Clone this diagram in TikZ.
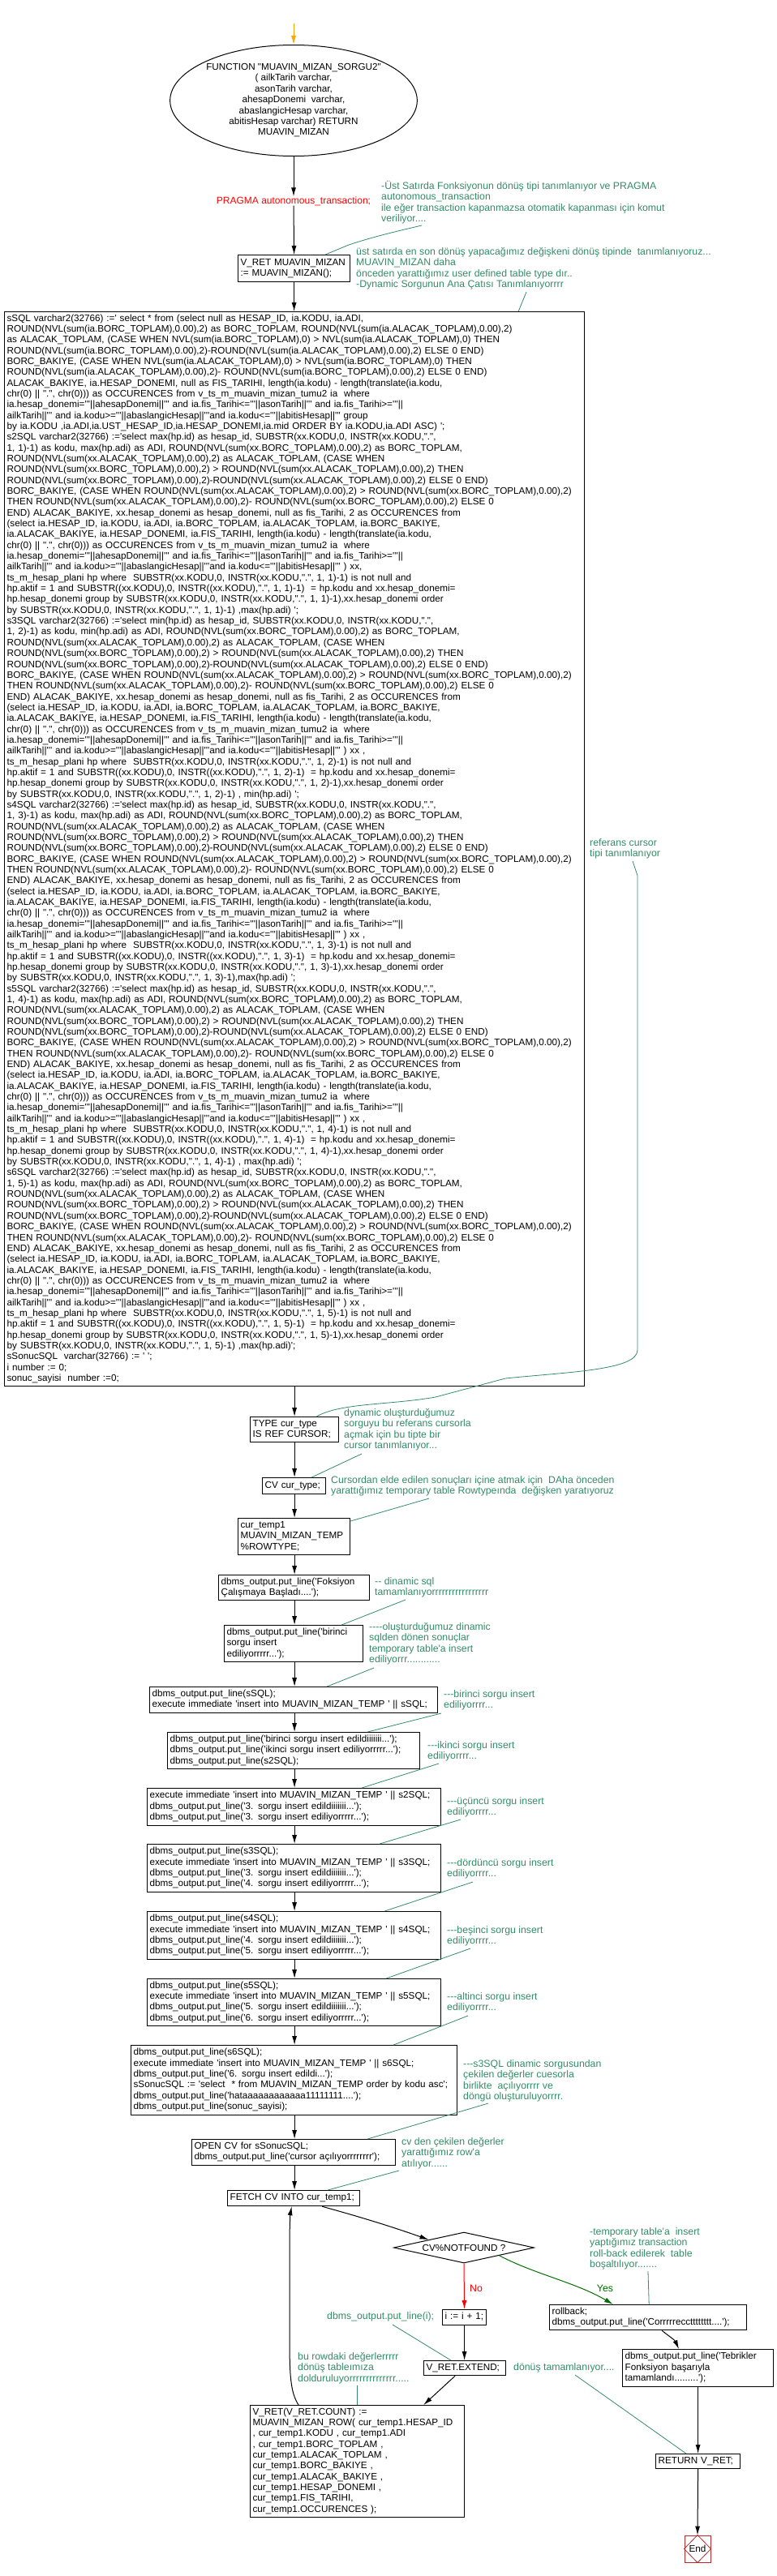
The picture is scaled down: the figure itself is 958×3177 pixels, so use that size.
\documentclass[tikz,border=0pt]{standalone}
\usepackage{fontspec}
\newfontfamily\af{Liberation Sans}
\usetikzlibrary{arrows.meta,shapes.geometric}
\definecolor{cmt}{RGB}{51,140,105}
\definecolor{yesgreen}{RGB}{0,110,0}
\definecolor{endred}{RGB}{190,40,40}
\definecolor{startorange}{RGB}{255,165,0}
\newcommand{\mylines}[1]{\begin{tabular}{@{}l@{}}#1\end{tabular}}
\newcommand{\mycentre}[1]{\begin{tabular}{@{}c@{}}#1\end{tabular}}
\newcommand{\sqhead}[3]{%
s#1SQL varchar2(32766) :='select #2(hp.id) as hesap\_id, SUBSTR(xx.KODU,0, INSTR(xx.KODU,".",\\
1, #3)-1) as kodu, #2(hp.adi) as ADI, ROUND(NVL(sum(xx.BORC\_TOPLAM),0.00),2) as BORC\_TOPLAM,\\
ROUND(NVL(sum(xx.ALACAK\_TOPLAM),0.00),2) as ALACAK\_TOPLAM, (CASE WHEN\\}
\newcommand{\sqbody}{%
ROUND(NVL(sum(xx.BORC\_TOPLAM),0.00),2) > ROUND(NVL(sum(xx.ALACAK\_TOPLAM),0.00),2) THEN\\
ROUND(NVL(sum(xx.BORC\_TOPLAM),0.00),2)-ROUND(NVL(sum(xx.ALACAK\_TOPLAM),0.00),2) ELSE 0 END)\\
BORC\_BAKIYE, (CASE WHEN ROUND(NVL(sum(xx.ALACAK\_TOPLAM),0.00),2) > ROUND(NVL(sum(xx.BORC\_TOPLAM),0.00),2)\\
THEN ROUND(NVL(sum(xx.ALACAK\_TOPLAM),0.00),2)- ROUND(NVL(sum(xx.BORC\_TOPLAM),0.00),2) ELSE 0\\
END) ALACAK\_BAKIYE, xx.hesap\_donemi as hesap\_donemi, null as fis\_Tarihi, 2 as OCCURENCES from\\
(select ia.HESAP\_ID, ia.KODU, ia.ADI, ia.BORC\_TOPLAM, ia.ALACAK\_TOPLAM, ia.BORC\_BAKIYE,\\
ia.ALACAK\_BAKIYE, ia.HESAP\_DONEMI, ia.FIS\_TARIHI, length(ia.kodu) - length(translate(ia.kodu,\\
chr(0) || ".", chr(0))) as OCCURENCES from v\_ts\_m\_muavin\_mizan\_tumu2 ia\ \ where\\
ia.hesap\_donemi='''||ahesapDonemi||''' and ia.fis\_Tarihi<='''||asonTarih||''' and ia.fis\_Tarihi>='''||\\}
\newcommand{\sqtail}[3]{%
ailkTarih||''' and ia.kodu>='''||abaslangicHesap||'''and ia.kodu<='''||abitisHesap||''' ) #1\\
ts\_m\_hesap\_plani hp where\ \ SUBSTR(xx.KODU,0, INSTR(xx.KODU,".", 1, #2)-1) is not null and\\
hp.aktif = 1 and SUBSTR((xx.KODU),0, INSTR((xx.KODU),".", 1, #2)-1)\ \ = hp.kodu and xx.hesap\_donemi=\\
hp.hesap\_donemi group by SUBSTR(xx.KODU,0, INSTR(xx.KODU,".", 1, #2)-1),xx.hesap\_donemi order\\
by SUBSTR(xx.KODU,0, INSTR(xx.KODU,".", 1, #2)-1)#3\\}
\begin{document}
\begin{tikzpicture}[x=1pt,y=-1pt,
  every node/.style={font=\af\fontsize{11.7}{13.34}\selectfont, inner sep=0pt},
  box/.style={draw, line width=1.2pt, anchor=north west, inner xsep=3pt, inner ysep=0pt, align=left},
  arr/.style={-{Latex[length=11pt,width=6pt]}, line width=1pt},
  cline/.style={cmt, line width=0.8pt},
  cfont/.style={font=\af\fontsize{12.3}{13.3}\selectfont},
  ctext/.style={cfont, text=cmt, anchor=north west, align=left}]
\fill[white] (0,0) rectangle (958,3177);
\useasboundingbox (0,0) rectangle (958,3177);

% ---------- top ----------
\coordinate (start) at (362,29);
\node[draw, ellipse, line width=1pt, minimum width=264pt, minimum height=137pt, align=center] (ell) at (362,124)
 {\mycentre{FUNCTION "MUAVIN\_MIZAN\_SORGU2"\\( ailkTarih varchar,\\asonTarih varchar,\\ahesapDonemi\ \ varchar,\\abaslangicHesap varchar,\\abitisHesap varchar) RETURN\\MUAVIN\_MIZAN}};
\node[text=red, font=\af\fontsize{12}{13.3}\selectfont] (pragma) at (362,248) {PRAGMA autonomous\_transaction;};
\node[box, text width=132pt, minimum height=33pt] (vret) at (293,314) {\mylines{V\_RET MUAVIN\_MIZAN\\:= MUAVIN\_MIZAN();}};

\node[ctext] (c1) at (470,223) {\mylines{-Üst Satırda Fonksiyonun dönüş tipi tanımlanıyor ve PRAGMA\\autonomous\_transaction\\ile eğer transaction kapanmazsa otomatik kapanması için komut\\veriliyor....}};
\node[ctext] (c2) at (439,305) {\mylines{üst satırda en son dönüş yapacağımız değişkeni dönüş tipinde\ \ tanımlanıyoruz...\\MUAVIN\_MIZAN daha\\önceden yarattığımız user defined table type dır..\\-Dynamic Sorgunun Ana Çatısı Tanımlanıyorrrr}};

% ---------- big SQL box ----------
\node[box, text width=709pt, minimum height=1325pt] (sql) at (5,384) {\mylines{%
sSQL varchar2(32766) :=' select * from (select null as HESAP\_ID, ia.KODU, ia.ADI,\\
ROUND(NVL(sum(ia.BORC\_TOPLAM),0.00),2) as BORC\_TOPLAM, ROUND(NVL(sum(ia.ALACAK\_TOPLAM),0.00),2)\\
as ALACAK\_TOPLAM, (CASE WHEN NVL(sum(ia.BORC\_TOPLAM),0) > NVL(sum(ia.ALACAK\_TOPLAM),0) THEN\\
ROUND(NVL(sum(ia.BORC\_TOPLAM),0.00),2)-ROUND(NVL(sum(ia.ALACAK\_TOPLAM),0.00),2) ELSE 0 END)\\
BORC\_BAKIYE, (CASE WHEN NVL(sum(ia.ALACAK\_TOPLAM),0) > NVL(sum(ia.BORC\_TOPLAM),0) THEN\\
ROUND(NVL(sum(ia.ALACAK\_TOPLAM),0.00),2)- ROUND(NVL(sum(ia.BORC\_TOPLAM),0.00),2) ELSE 0 END)\\
ALACAK\_BAKIYE, ia.HESAP\_DONEMI, null as FIS\_TARIHI, length(ia.kodu) - length(translate(ia.kodu,\\
chr(0) || ".", chr(0))) as OCCURENCES from v\_ts\_m\_muavin\_mizan\_tumu2 ia\ \ where\\
ia.hesap\_donemi='''||ahesapDonemi||''' and ia.fis\_Tarihi<='''||asonTarih||''' and ia.fis\_Tarihi>='''||\\
ailkTarih||''' and ia.kodu>='''||abaslangicHesap||'''and ia.kodu<='''||abitisHesap||''' group\\
by ia.KODU ,ia.ADI,ia.UST\_HESAP\_ID,ia.HESAP\_DONEMI,ia.mid ORDER BY ia.KODU,ia.ADI ASC) ';\\
\sqhead{2}{max}{1}\sqbody\sqtail{xx,}{1}{ ,max(hp.adi) ';}%
\sqhead{3}{min}{2}\sqbody\sqtail{xx ,}{2}{ , min(hp.adi) ';}%
\sqhead{4}{max}{3}\sqbody\sqtail{xx ,}{3}{,max(hp.adi) ';}%
\sqhead{5}{max}{4}\sqbody\sqtail{xx ,}{4}{ , max(hp.adi) ';}%
\sqhead{6}{max}{5}\sqbody\sqtail{xx ,}{5}{ ,max(hp.adi)';}%
sSonucSQL\ \ varchar(32766) := ' ';\\
i number := 0;\\
sonuc\_sayisi\ \ number :=0;}};

\node[ctext] (cref) at (727,1034) {\mylines{referans cursor\\tipi tanımlanıyor}};

% ---------- middle chain ----------
\node[box, text width=103pt, minimum height=31pt] (type) at (308,1747) {\mylines{TYPE cur\_type\\IS REF CURSOR;}};
\node[ctext] (ctype) at (424,1737) {\mylines{dynamic oluşturduğumuz\\sorguyu bu referans cursorla\\açmak için bu tipte bir\\cursor tanımlanıyor...}};
\node[box, text width=72pt, minimum height=20pt] (cv) at (323,1822) {\mylines{CV cur\_type;}};
\node[ctext] (ccv) at (408,1820) {\mylines{Cursordan elde edilen sonuçları içine atmak için\ \ DAha önceden\\yarattığımız temporary table Rowtypeında\ \ değişken yaratıyoruz}};
\node[box, text width=132pt, minimum height=45pt] (ct) at (293,1872) {\mylines{cur\_temp1\\MUAVIN\_MIZAN\_TEMP\\\%ROWTYPE;}};
\node[box, text width=180pt, minimum height=31pt] (fok) at (269,1942) {\mylines{dbms\_output.put\_line('Foksiyon\\Çalışmaya Başladı....');}};
\node[ctext] (cfok) at (462,1945) {\mylines{-- dinamic sql\\tamamlanıyorrrrrrrrrrrrrrrrr}};
\node[box, text width=165pt, minimum height=45pt] (bir) at (276,2004) {\mylines{dbms\_output.put\_line('birinci\\sorgu insert\\ediliyorrrrr...');}};
\node[ctext] (cbir) at (455,2001) {\mylines{----oluşturduğumuz dinamic\\sqlden dönen sonuçlar\\temporary table'a insert\\ediliyorrr............}};
\node[box, text width=349pt, minimum height=32pt] (ssql) at (184,2080) {\mylines{dbms\_output.put\_line(sSQL);\\execute immediate 'insert into MUAVIN\_MIZAN\_TEMP ' || sSQL;}};
\node[ctext] (cssql) at (547,2084) {\mylines{---birinci sorgu insert\\ediliyorrrr...}};
\node[box, text width=305pt, minimum height=45pt] (s2) at (206,2136) {\mylines{dbms\_output.put\_line('birinci sorgu insert edildiiiiiii...');\\dbms\_output.put\_line('ikinci sorgu insert ediliyorrrrr...');\\dbms\_output.put\_line(s2SQL);}};
\node[ctext] (cs2) at (527,2147) {\mylines{---ikinci sorgu insert\\ediliyorrrr...}};
\node[box, text width=356pt, minimum height=46pt] (sa) at (181,2205) {\mylines{execute immediate 'insert into MUAVIN\_MIZAN\_TEMP ' || s2SQL;\\dbms\_output.put\_line('3. sorgu insert edildiiiiiii...');\\dbms\_output.put\_line('3. sorgu insert ediliyorrrrr...');}};
\node[ctext] (csa) at (551,2216) {\mylines{---üçüncü sorgu insert\\ediliyorrrr...}};
\node[box, text width=356pt, minimum height=59pt] (sb) at (181,2274) {\mylines{dbms\_output.put\_line(s3SQL);\\execute immediate 'insert into MUAVIN\_MIZAN\_TEMP ' || s3SQL;\\dbms\_output.put\_line('3. sorgu insert edildiiiiiii...');\\dbms\_output.put\_line('4. sorgu insert ediliyorrrrr...');}};
\node[ctext] (csb) at (551,2292) {\mylines{---dördüncü sorgu insert\\ediliyorrrr...}};
\node[box, text width=356pt, minimum height=59pt] (sc) at (181,2357) {\mylines{dbms\_output.put\_line(s4SQL);\\execute immediate 'insert into MUAVIN\_MIZAN\_TEMP ' || s4SQL;\\dbms\_output.put\_line('4. sorgu insert edildiiiiiii...');\\dbms\_output.put\_line('5. sorgu insert ediliyorrrrr...');}};
\node[ctext] (csc) at (551,2375) {\mylines{---beşinci sorgu insert\\ediliyorrrr...}};
\node[box, text width=356pt, minimum height=58pt] (sd) at (181,2440) {\mylines{dbms\_output.put\_line(s5SQL);\\execute immediate 'insert into MUAVIN\_MIZAN\_TEMP ' || s5SQL;\\dbms\_output.put\_line('5. sorgu insert edildiiiiiii...');\\dbms\_output.put\_line('6. sorgu insert ediliyorrrrr...');}};
\node[ctext] (csd) at (551,2457) {\mylines{---altinci sorgu insert\\ediliyorrrr...}};
\node[box, text width=396pt, minimum height=86pt] (s6) at (161,2522) {\mylines{dbms\_output.put\_line(s6SQL);\\execute immediate 'insert into MUAVIN\_MIZAN\_TEMP ' || s6SQL;\\dbms\_output.put\_line('6. sorgu insert edildi...');\\sSonucSQL := 'select\ \ * from MUAVIN\_MIZAN\_TEMP order by kodu asc';\\dbms\_output.put\_line('hataaaaaaaaaaaa11111111....');\\dbms\_output.put\_line(sonuc\_sayisi);}};
\node[ctext] (cs6) at (571,2540) {\mylines{---s3SQL dinamic sorgusundan\\çekilen değerler cuesorla\\birlikte\ \ açılıyorrrr ve\\döngü oluşturuluyorrrr.}};
\node[box, text width=245pt, minimum height=32pt] (open) at (236,2638) {\mylines{OPEN CV for sSonucSQL;\\dbms\_output.put\_line('cursor açılıyorrrrrrrr');}};
\node[ctext] (copen) at (495,2636) {\mylines{cv den çekilen değerler\\yarattığımız row'a\\atılıyor......}};
\node[box, text width=157pt, minimum height=19pt] (fetch) at (280,2701) {\mylines{FETCH CV INTO cur\_temp1;}};

% ---------- loop ----------
\node[draw, diamond, aspect=4.55, line width=1pt, minimum width=173pt, minimum height=38pt] (dia) at (572,2772) {CV\%NOTFOUND ?};
\node[box, text width=48pt, minimum height=19pt] (ibox) at (545,2848) {\mylines{i := i + 1;}};
\node[cfont, text=cmt, anchor=west] (ci) at (403,2857) {dbms\_output.put\_line(i);};
\node[box, text width=95pt, minimum height=18pt] (ext) at (522,2911) {\mylines{V\_RET.EXTEND;}};
\node[cfont, text=cmt, anchor=west] (cdonus) at (633,2920) {dönüş tamamlanıyor....};
\node[ctext] (cbu) at (367,2901) {\mylines{bu rowdaki değerlerrrrr\\dönüş tableımıza\\dolduruluyorrrrrrrrrrrrrr.....}};
\node[box, text width=258pt, minimum height=138pt] (vc) at (308,2966) {\mylines{V\_RET(V\_RET.COUNT) :=\\MUAVIN\_MIZAN\_ROW( cur\_temp1.HESAP\_ID\\, cur\_temp1.KODU , cur\_temp1.ADI\\, cur\_temp1.BORC\_TOPLAM ,\\cur\_temp1.ALACAK\_TOPLAM ,\\cur\_temp1.BORC\_BAKIYE ,\\cur\_temp1.ALACAK\_BAKIYE ,\\cur\_temp1.HESAP\_DONEMI ,\\cur\_temp1.FIS\_TARIHI,\\cur\_temp1.OCCURENCES );}};
\node[ctext] (ctemp) at (727,2747) {\mylines{-temporary table'a\ \ insert\\yaptığımız transaction\\roll-back edilerek\ \ table\\boşaltılıyor.......}};
\node[box, text width=237pt, minimum height=31pt] (rb) at (677,2842) {\mylines{rollback;\\dbms\_output.put\_line('Corrrrrecctttttttt....');}};
\node[box, text width=180pt, minimum height=46pt] (teb) at (767,2897) {\mylines{dbms\_output.put\_line('Tebrikler\\Fonksiyon başarıyla\\tamamlandı.........');}};
\node[box, text width=98pt, minimum height=18pt] (ret) at (808,3026) {\mylines{RETURN V\_RET;}};
\node[draw=endred, line width=1pt, minimum width=32pt, minimum height=33pt] (endbox) at (860,3143.5) {End};
\draw[endred, line width=0.8pt] (endbox.north) -- (endbox.east) -- (endbox.south) -- (endbox.west) -- cycle;
\node[cfont, text=red, anchor=west] (nolab) at (579,2822) {No};
\node[cfont, text=yesgreen] (yeslab) at (746,2822) {Yes};

% ---------- main arrows ----------
\draw[arr, startorange] (start) -- (ell.north);
\draw[arr] (ell.south) -- (pragma.north);
\draw[arr] (pragma.south) -- (vret.north);
\draw[arr] (vret.south) -- (vret.south |- sql.north);
\draw[arr] (sql.south -| type.north) -- (type.north);
\draw[arr] (type.south) -- (type.south |- cv.north);
\draw[arr] (cv.south -| type.south) -- (type.south |- ct.north);
\draw[arr] (ct.south -| type.south) -- (type.south |- fok.north);
\draw[arr] (fok.south -| type.south) -- (type.south |- bir.north);
\draw[arr] (bir.south -| type.south) -- (type.south |- ssql.north);
\draw[arr] (ssql.south -| type.south) -- (type.south |- s2.north);
\draw[arr] (s2.south -| type.south) -- (type.south |- sa.north);
\draw[arr] (sa.south -| type.south) -- (type.south |- sb.north);
\draw[arr] (sb.south -| type.south) -- (type.south |- sc.north);
\draw[arr] (sc.south -| type.south) -- (type.south |- sd.north);
\draw[arr] (sd.south -| type.south) -- (type.south |- s6.north);
\draw[arr] (s6.south -| type.south) -- (type.south |- open.north);
\draw[arr] (open.south -| type.south) -- (type.south |- fetch.north);
\draw[arr] ([xshift=35pt]fetch.south) .. controls (440,2733) and (480,2745) .. (dia.north west);
\draw[arr, red] (dia.south) -- (ibox.north);
\draw[arr, yesgreen] (dia.south east) .. controls (660,2805) and (710,2815) .. ([xshift=79pt]rb.north west);
\draw[arr] ([xshift=139pt]rb.south west) .. controls (826,2882) and (832,2886) .. ([xshift=70pt]teb.north west);
\draw[arr] (teb.south -| ret.north) -- (ret.north);
\draw[arr] (ret.south) -- (endbox.north);
\draw[arr] (ibox.south) -- (ibox.south |- ext.north);
\draw[arr] ([xshift=-12pt]ext.south) -- ([xshift=-51pt]vc.north east);
\draw[arr] ([xshift=60pt]vc.north west) .. controls (358,2950) and (357,2930) .. (357,2880) -- (357,2770) .. controls (357,2745) and (358,2730) .. ([xshift=-2.5pt]fetch.south);

% ---------- comment connectors ----------
\coordinate (k1) at (520,278);
\draw[cline] (k1) .. controls (490,285) and (460,292) .. (430,302) -- ([xshift=-31pt]vret.north east);
\coordinate (k2) at (649,360);
\draw[cline] (k2) -- ([xshift=-82pt]sql.north east);
\coordinate (k3) at (780,1062);
\draw[cline] (k3) -- (786,1080) -- (786,1665) .. controls (786,1690) and (700,1692) .. (623,1700) -- (537,1723) .. controls (480,1733) and (420,1730) .. ([xshift=-28pt]type.north east);
\coordinate (k4) at (446,1793);
\draw[cline] (k4) -- ([xshift=-18pt]cv.north east);
\coordinate (k5) at (529,1848);
\draw[cline] (k5) -- ([yshift=-4pt]ct.north east);
\coordinate (k6) at (500,1973);
\draw[cline] (k6) -- ([xshift=-27pt]bir.north east);
\coordinate (k7) at (461,2057);
\draw[cline] (k7) -- ([xshift=-137pt]ssql.north east);
\coordinate (k8) at (544,2113);
\draw[cline] (k8) -- ([xshift=-65pt]s2.north east);
\coordinate (k9) at (541,2175);
\draw[cline] (k9) -- ([xshift=-98pt]sa.north east);
\coordinate (k10) at (568,2244);
\draw[cline] (k10) -- ([xshift=-76pt]sb.north east);
\coordinate (k11) at (583,2321);
\draw[cline] (k11) -- ([xshift=-70pt]sc.north east);
\coordinate (k12) at (580,2403);
\draw[cline] (k12) -- ([xshift=-68pt]sd.north east);
\coordinate (k13) at (577,2486);
\draw[cline] (k13) -- ([xshift=-79pt]s6.north east);
\coordinate (k14) at (602,2594);
\draw[cline] (k14) -- ([xshift=-35pt]open.north east);
\coordinate (k15) at (492,2677);
\draw[cline] (k15) -- ([xshift=-40pt]fetch.north east);
\coordinate (k16) at (799,2801);
\draw[cline] (k16) -- ([xshift=-121pt]rb.north east);
\coordinate (k17) at (484,2867);
\draw[cline] (k17) -- ([xshift=34pt]ext.north west);
\coordinate (k18) at (709,2929);
\draw[cline] (k18) -- ([xshift=38pt]ret.north west);
\coordinate (k19) at (440,2942);
\draw[cline] (k19) -- ([xshift=132pt]vc.north west);
\end{tikzpicture}
\end{document}
